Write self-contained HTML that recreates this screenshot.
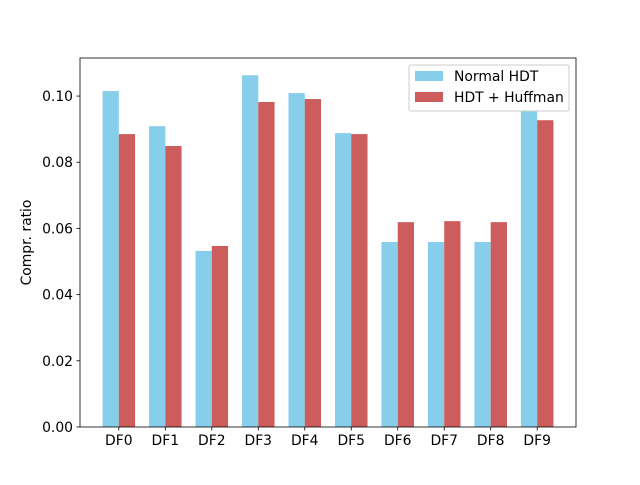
<!DOCTYPE html>
<html><head><meta charset="utf-8"><style>
body{margin:0;background:#fff}
svg{font-family:"DejaVu Sans","Liberation Sans",sans-serif}
</style></head><body>
<svg id="chart" width="640" height="480"></svg>
<script>
const categories=["DF0","DF1","DF2","DF3","DF4","DF5","DF6","DF7","DF8","DF9"];
const normalHDT=[0.1015,0.0909,0.0532,0.1063,0.1009,0.0888,0.0559,0.0559,0.0559,0.0985];
const hdtHuffman=[0.0885,0.0849,0.0547,0.0982,0.0991,0.0885,0.0619,0.0622,0.0619,0.0927];
const yTicks=[0,0.02,0.04,0.06,0.08,0.10];
const yTickLabels=["0.00","0.02","0.04","0.06","0.08","0.10"];

const NS="http://www.w3.org/2000/svg";
const svg=document.getElementById('chart');
const L=80,R=576,T=58,B=427;
const xmin=-0.835,xmax=categories.length-1+0.835,ymax=0.1115;
const xs=v=>L+(v-xmin)/(xmax-xmin)*(R-L);
const ys=v=>B-v/ymax*(B-T);
const FS=13.9;
function el(t,a,txt){const e=document.createElementNS(NS,t);for(const k in a)e.setAttribute(k,a[k]);if(txt!==undefined)e.textContent=txt;svg.appendChild(e);return e;}
const w=0.35;
categories.forEach((c,i)=>{
  let b=el('rect',{x:xs(i-w),y:ys(normalHDT[i]),width:xs(i)-xs(i-w),height:B-ys(normalHDT[i]),fill:'#87ceeb'});
  
  
  let r=el('rect',{x:xs(i),y:ys(hdtHuffman[i]),width:xs(i+w)-xs(i),height:B-ys(hdtHuffman[i]),fill:'#cd5c5c'});
  
  
  let tk=el('line',{x1:xs(i),x2:xs(i),y1:B,y2:B+3.5,stroke:'#000','stroke-width':0.8});
  
  
  let tl=el('text',{x:xs(i),y:B+18,'font-size':FS,'text-anchor':'middle'},c);
  
  
});
yTicks.forEach((v,i)=>{
  let tk=el('line',{x1:L-3.5,x2:L,y1:ys(v),y2:ys(v),stroke:'#000','stroke-width':0.8});
  
  
  let tl=el('text',{x:L-7,y:ys(v)+5,'font-size':FS,'text-anchor':'end'},yTickLabels[i]);
  
  
});
let frame=el('rect',{x:L,y:T,width:R-L,height:B-T,fill:'none',stroke:'#000','stroke-width':0.8});


let yt=el('text',{x:0,y:0,'font-size':FS,'text-anchor':'middle',transform:`translate(31,${(T+B)/2}) rotate(-90)`},'Compr. ratio');


let lg=el('rect',{x:409,y:65,width:160,height:46,rx:2,fill:'#fff','fill-opacity':1,stroke:'#ccc','stroke-width':1});


[['Normal HDT','#87ceeb',76],['HDT + Huffman','#cd5c5c',97]].forEach(([t,c,y])=>{
  let p=el('rect',{x:415,y:y-5,width:28,height:10,fill:c});
  
  
  let tx=el('text',{x:454,y:y+5,'font-size':FS},t);
  
  
});
</script>
</body></html>
